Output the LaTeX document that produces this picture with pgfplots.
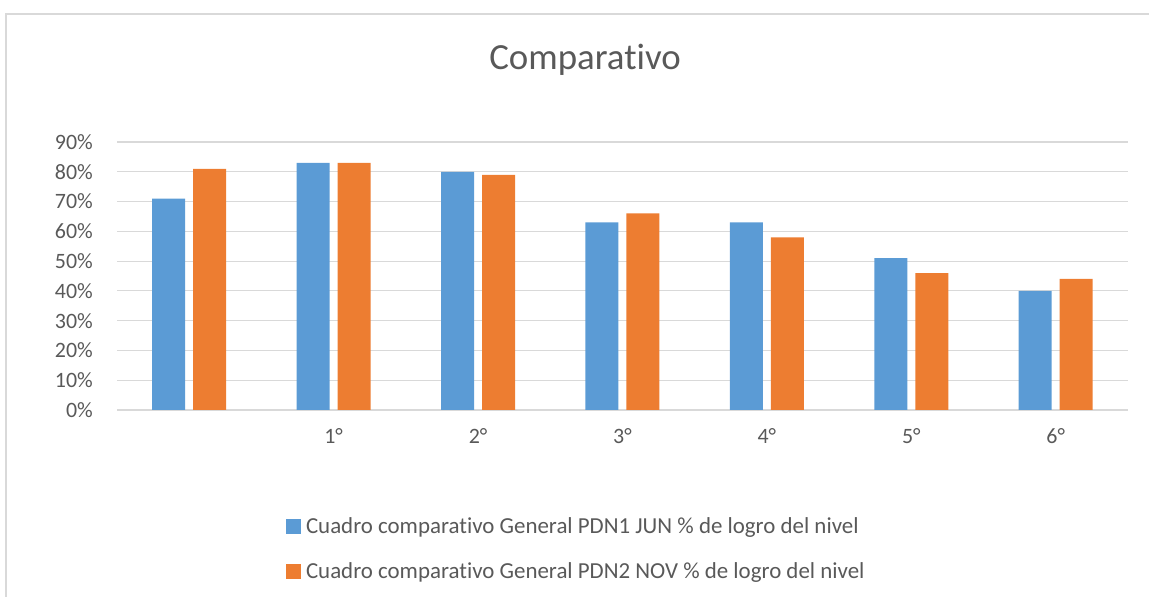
\documentclass[border=0pt]{standalone}
\usepackage{pgfplots}
\pgfplotsset{compat=1.18}
\usepackage{fontspec}
\setmainfont[Ligatures=NoCommon, RawFeature={-liga;-calt;-dlig}]{Carlito}
\newcommand{\ti}{t\kern0pt i}
\definecolor{xblue}{HTML}{5B9BD5}
\definecolor{xorange}{HTML}{ED7D31}
\definecolor{xgrid}{HTML}{D9D9D9}
\definecolor{xtext}{HTML}{595959}
\begin{document}
\begin{tikzpicture}
\path[use as bounding box] (0,0) rectangle (1149bp,597bp);
\draw[xgrid, line width=1.5bp] (6bp,0) -- (6bp,583bp) -- (1149bp,583bp);
\begin{axis}[
  at={(117bp,187bp)}, anchor=south west,
  scale only axis, width=1011bp, height=268bp,
  ymin=0, ymax=90, xmin=-0.5, xmax=6.5,
  ybar=8bp, bar width=33bp,
  ytick={0,10,...,90},
  yticklabel={\pgfmathprintnumber{\tick}\%},
  xtick={0,1,2,3,4,5,6},
  xticklabels={{},1°,2°,3°,4°,5°,6°},
  major tick length=0pt,
  axis line style={draw=none},
  ymajorgrids, grid style={xgrid, line width=1.2bp},
  tick label style={font=\fontsize{22}{26}\selectfont, text=xtext},
  /pgf/number format/assume math mode=true,
  yticklabel style={inner sep=0pt, xshift=-24bp},
  xticklabel style={inner sep=0pt, yshift=-18bp},
  title={Compara\ti vo},
  title style={at={(0.463,1.284)}, anchor=center, font=\fontsize{37}{42}\selectfont, text=xtext},
  legend style={at={(0.167,-0.395)}, anchor=north west, draw=none, inner sep=0pt,
    font=\fontsize{23}{27}\selectfont, text=xtext, row sep=23bp,
    /tikz/every odd column/.style={column sep=3bp}},
  legend cell align=left,
  legend image code/.code={\fill[#1] (0bp,-7.5bp) rectangle (15bp,7.5bp);},
]
\addplot[fill=xblue, draw=none] coordinates {(0,71) (1,83) (2,80) (3,63) (4,63) (5,51) (6,40)};
\addplot[fill=xorange, draw=none] coordinates {(0,81) (1,83) (2,79) (3,66) (4,58) (5,46) (6,44)};
\legend{Cuadro compara\ti vo General PDN1 JUN \% de logro del nivel, Cuadro compara\ti vo General PDN2 NOV \% de logro del nivel}
\end{axis}
\end{tikzpicture}
\end{document}
